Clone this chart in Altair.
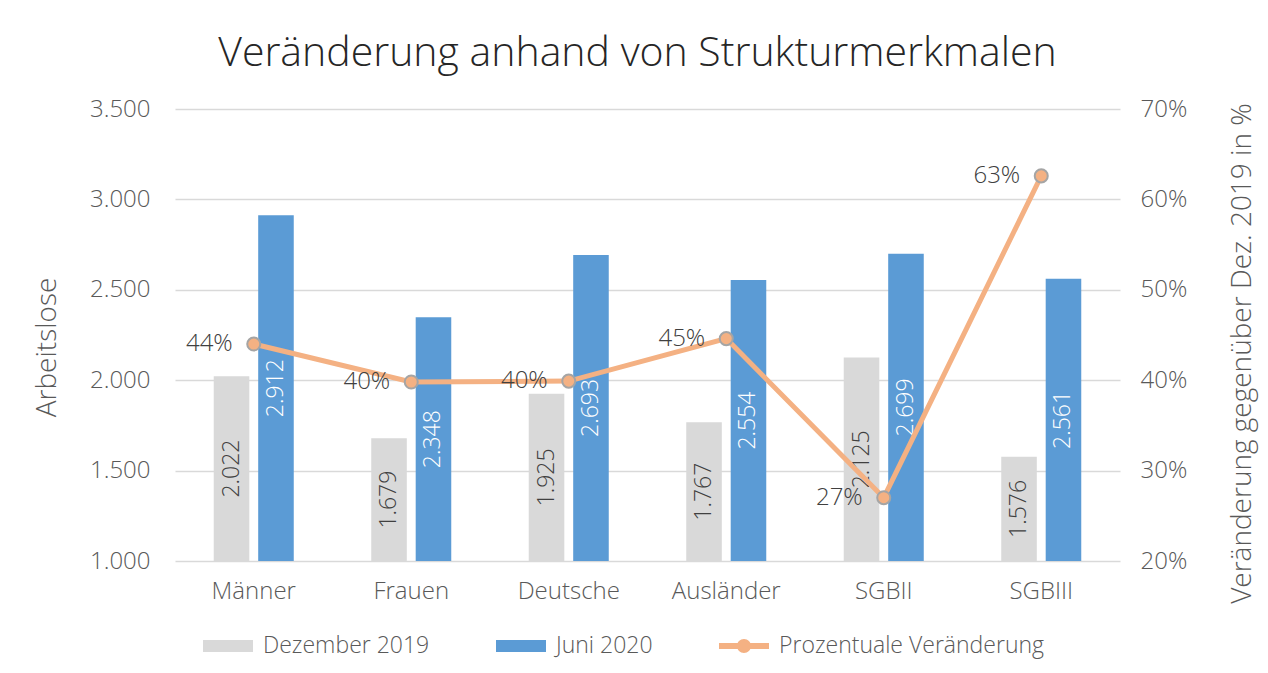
import altair as alt
import pandas as pd

categories = ["Männer", "Frauen", "Deutsche", "Ausländer", "SGBII", "SGBIII"]
dez_2019 = [2022, 1679, 1925, 1767, 2125, 1576]
juni_2020 = [2912, 2348, 2693, 2554, 2699, 2561]
veraenderung = [0.440, 0.398, 0.399, 0.446, 0.270, 0.626]
series_names = ["Dezember 2019", "Juni 2020", "Prozentuale Veränderung"]
y_left_ticks = [1000, 1500, 2000, 2500, 3000, 3500]
y_right_ticks = [0.2, 0.3, 0.4, 0.5, 0.6, 0.7]

FONT = "Open Sans"
WEIGHT = 300
GREY = "#D9D9D9"
BLUE = "#5B9BD5"
ORANGE = "#F4B183"
EDGE = "#A5A5A5"
TEXT = "#595959"

RECT = "M-1,-0.24H1V0.24H-1Z"
LINESYM = ("M-1,-0.12H1V0.12H-1Z "
           "M-0.28,0A0.28,0.28 0 1,1 0.28,0A0.28,0.28 0 1,1 -0.28,0Z")

bars_df = pd.DataFrame({
    "kategorie": categories * 2,
    "serie": [series_names[0]] * 6 + [series_names[1]] * 6,
    "wert": dez_2019 + juni_2020,
})
bars_df["label"] = bars_df["wert"].map(lambda v: f"{v:,}".replace(",", "."))
line_df = pd.DataFrame({"kategorie": categories, "pct": veraenderung})
legend_df = pd.DataFrame({"serie": series_names})

legend_def = alt.Legend(
    title=None, orient="none", legendX=28, legendY=512, direction="horizontal",
    symbolSize=2500, symbolStrokeWidth=0, labelFontSize=23, labelColor=TEXT,
    labelFont=FONT, labelFontWeight=WEIGHT, columnPadding=66, labelOffset=10,
    labelLimit=500,
)

x_enc = alt.X(
    "kategorie:N", sort=categories,
    scale=alt.Scale(paddingInner=0.492, paddingOuter=0.246),
    axis=alt.Axis(title=None, labelAngle=0, labelPadding=18, domain=False, ticks=False),
)
xoff = alt.XOffset(
    "serie:N", sort=series_names[:2],
    scale=alt.Scale(domain=series_names[:2], paddingInner=0.2, paddingOuter=0),
)
color_scale = alt.Scale(domain=series_names, range=[GREY, BLUE, ORANGE])
left_scale = alt.Scale(domain=[1000, 3500], zero=False, nice=False)
right_scale = alt.Scale(domain=[0.2, 0.7], zero=False, nice=False)

left_axis = alt.Axis(
    title="Arbeitslose", values=y_left_ticks,
    labelExpr="replace(format(datum.value, ',d'), ',', '.')",
    grid=True, gridColor=GREY, gridWidth=1.5, domain=False, ticks=False,
    labelPadding=25, titleX=-128, titleY=238, titleAngle=270,
    titleAlign="center", titleBaseline="middle")
right_axis = alt.Axis(
    title="Veränderung gegenüber Dez. 2019 in %", orient="right",
    values=y_right_ticks, format=".0%", grid=False, domain=False, ticks=False,
    labelPadding=20, titleX=122, titleY=244, titleAngle=270,
    titleAlign="center", titleBaseline="middle")

bars = alt.Chart(bars_df).mark_bar().encode(
    x=x_enc,
    xOffset=xoff,
    y=alt.Y("wert:Q", scale=left_scale, axis=left_axis),
    y2=alt.datum(1000),
    color=alt.Color("serie:N", scale=color_scale, legend=legend_def),
)

def bar_text(serie, col):
    return alt.Chart(bars_df).transform_filter(
        alt.datum.serie == serie
    ).transform_calculate(
        mid="(datum.wert + 1000) / 2"
    ).mark_text(angle=270, align="center", baseline="middle", fontSize=23,
                color=col, font=FONT, fontWeight=WEIGHT).encode(
        x=x_enc, xOffset=xoff,
        y=alt.Y("mid:Q", scale=left_scale, axis=left_axis),
        text="label:N",
    )

left = alt.layer(bars, bar_text(series_names[0], "#404040"), bar_text(series_names[1], "white"))

line = alt.Chart(line_df).mark_line(color=ORANGE, strokeWidth=5).encode(
    x=x_enc,
    y=alt.Y("pct:Q", scale=right_scale, axis=right_axis),
)
points = alt.Chart(line_df).mark_point(
    filled=True, fill=ORANGE, stroke=EDGE, strokeWidth=2, size=170, opacity=1, shape="circle"
).encode(x=x_enc, y=alt.Y("pct:Q", scale=right_scale, axis=right_axis))
pct_text = alt.Chart(line_df).mark_text(
    align="right", baseline="middle", dx=-21, fontSize=24, color="#404040",
    font=FONT, fontWeight=WEIGHT
).encode(
    x=x_enc, y=alt.Y("pct:Q", scale=right_scale, axis=right_axis),
    text=alt.Text("pct:Q", format=".0%"),
)
hidden = alt.Chart(legend_df).mark_point(filled=True, size=0, opacity=1).encode(
    color=alt.Color("serie:N", scale=color_scale, legend=legend_def),
    shape=alt.Shape("serie:N", scale=alt.Scale(domain=series_names, range=[RECT, RECT, LINESYM]),
                    legend=legend_def),
)

right = alt.layer(line, points, pct_text)

chart = alt.layer(left, right, hidden).resolve_scale(y="independent").properties(
    width=945, height=452,
    autosize=alt.AutoSizeParams(type="none"),
    padding={"left": 167, "top": 101, "right": 140, "bottom": 104},
    title=alt.Title("Veränderung anhand von Strukturmerkmalen", fontSize=41, font=FONT,
                    fontWeight=WEIGHT, color="#262626", anchor="middle", offset=22, dx=-10),
).configure_axis(
    labelFont=FONT, titleFont=FONT, labelColor=TEXT, titleColor=TEXT,
    labelFontSize=24, titleFontSize=28, titleFontWeight=WEIGHT, labelFontWeight=WEIGHT,
).configure_view(stroke=None)

chart.save("out.html", embed_options={"renderer": "svg", "actions": False})
